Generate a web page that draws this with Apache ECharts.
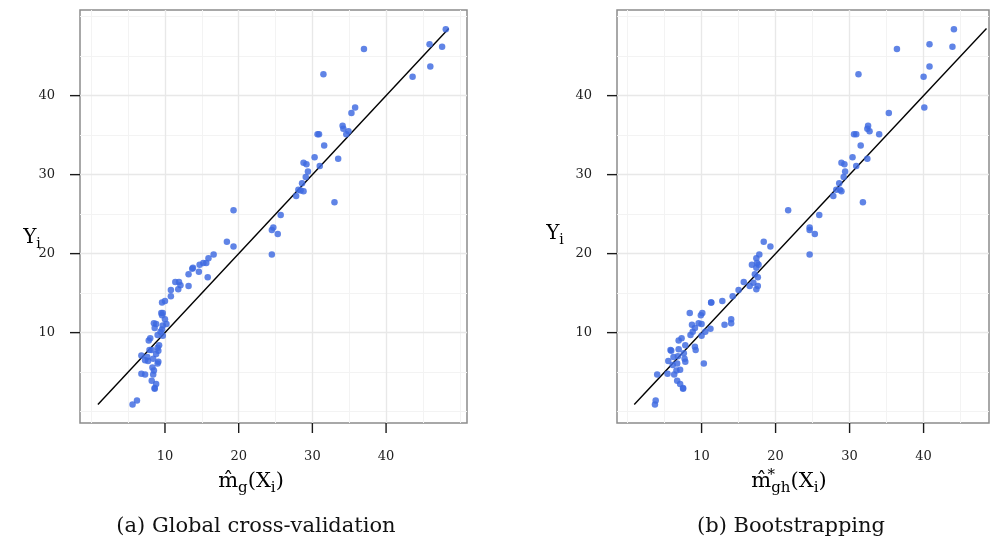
<!DOCTYPE html>
<html><head><meta charset="utf-8">
<script src="https://cdn.jsdelivr.net/npm/echarts@6/dist/echarts.min.js"></script>
<style>html,body{margin:0;padding:0;background:#fff}#c{width:996px;height:545px}</style>
</head><body><div id="c"></div>
<script>
// ---- data ----
const leftX = [48.1,45.9,47.6,37.0,46.0,43.6,31.5,35.8,35.3,34.1,34.2,34.9,34.6,30.7,30.9,31.6,30.3,33.5,28.8,29.2,31.0,29.4,29.1,28.6,28.1,28.4,28.8,27.8,33.0,19.3,25.7,24.7,24.5,25.3,24.5,18.4,19.3,16.6,15.9,15.6,15.2,14.7,13.7,13.8,14.6,13.2,15.8,11.4,11.9,12.1,13.2,11.8,10.8,10.8,9.6,10.0,9.5,9.7,9.6,10.0,8.5,8.8,8.6,10.2,9.7,9.6,9.4,9.7,9.0,8.0,7.8,9.2,9.0,9.1,8.2,7.9,8.8,6.8,7.6,8.4,7.3,7.7,9.1,9.0,8.3,8.5,8.4,6.8,7.3,8.2,8.8,8.6,8.6,6.2,5.6];
const leftY = [48.4,46.5,46.2,45.9,43.7,42.4,42.7,38.5,37.8,36.2,35.8,35.5,35.1,35.1,35.1,33.7,32.2,32.0,31.5,31.3,31.1,30.4,29.7,28.9,28.1,28.0,27.9,27.3,26.5,25.5,24.9,23.3,23.0,22.5,19.9,21.5,20.9,19.9,19.4,18.8,18.8,18.6,18.1,18.2,17.7,17.4,17.0,16.4,16.4,16.0,15.9,15.5,15.4,14.6,13.8,14.0,12.5,12.5,12.2,11.7,11.2,11.1,10.6,11.1,10.9,10.4,10.1,9.6,9.7,9.3,9.0,8.4,8.1,7.7,7.8,7.8,7.3,7.1,6.9,6.7,6.5,6.4,6.3,6.1,5.6,5.2,4.7,4.8,4.7,3.9,3.5,2.9,3.0,1.4,0.9];
const rightX = [44.1,40.8,43.9,36.4,40.8,40.0,31.2,40.1,35.3,32.5,32.4,32.7,34.0,30.6,30.9,31.5,30.4,32.4,28.9,29.3,30.9,29.4,29.2,28.6,28.2,28.7,28.9,27.8,31.8,21.7,25.9,24.6,24.6,25.3,24.6,18.4,19.3,17.8,17.4,17.5,16.8,17.7,17.4,17.2,17.6,15.7,17.0,16.5,17.6,17.4,15.0,14.2,11.3,11.3,12.8,8.4,10.1,9.9,14.0,14.0,13.1,8.7,9.6,10.0,9.1,11.2,10.5,8.8,8.5,10.0,7.3,6.9,9.1,7.8,9.2,5.8,5.9,6.9,7.6,6.2,6.8,7.7,5.5,7.8,6.1,6.7,10.3,6.6,7.1,4.0,5.4,6.3,6.7,7.1,7.5,7.5,3.8,3.7];
const rightY = [48.4,46.5,46.2,45.9,43.7,42.4,42.7,38.5,37.8,36.2,35.8,35.5,35.1,35.1,35.1,33.7,32.2,32.0,31.5,31.3,31.1,30.4,29.7,28.9,28.1,28.1,27.9,27.3,26.5,25.5,24.9,23.3,23.0,22.5,19.9,21.5,20.9,19.9,19.4,18.8,18.6,18.6,18.2,17.4,17.0,16.4,16.3,15.9,15.9,15.5,15.4,14.6,13.8,13.8,14.0,12.5,12.5,12.2,11.7,11.2,11.0,11.0,11.2,11.1,10.6,10.5,10.1,10.1,9.7,9.6,9.3,9.0,8.2,8.4,7.8,7.8,7.7,7.9,7.4,6.9,7.0,6.7,6.4,6.3,5.9,6.1,6.1,5.2,5.3,4.7,4.8,4.7,3.9,3.5,2.9,3.0,1.4,0.9];
const lineX = [0.9, 48.5];
const lineY = [0.9, 48.5];
const tickValues = [10, 20, 30, 40];
const majorGrid = [10, 20, 30, 40];
const minorGrid = [0, 5, 15, 25, 35, 45, 50];
const captions = ['(a) Global cross-validation', '(b) Bootstrapping'];

// ---- layout ----
const panels = [
  {grid:{left:80, top:10, width:387, height:413}, xr:[-1.53, 50.98], yr:[-1.44, 50.84], xs:leftX, ys:leftY},
  {grid:{left:617, top:10, width:372, height:413}, xr:[-1.43, 48.84], yr:[-1.44, 50.84], xs:rightX, ys:rightY}
];
const FONT = 'DejaVu Serif';
const TICK_LEN = 10;
const TICK_W = 1.4;
const zip = (a,b) => a.map((v,i)=>[v,b[i]]);

const grids=[], xAxes=[], yAxes=[], series=[];
panels.forEach((p,i)=>{
  grids.push(Object.assign({show:true, borderColor:'#8c8c8c', borderWidth:1.5, backgroundColor:'transparent'}, p.grid));
  const mkAxis = (pos, range, margin) => ({
    type:'value', gridIndex:i, position:pos, min:range[0], max:range[1],
    axisLine:{show:false, onZero:false},
    splitLine:{show:false},
    axisTick:{show:false},
    axisLabel:{show:true, customValues:tickValues, margin:margin, fontFamily:FONT, fontSize:13, color:'#222'}
  });
  xAxes.push(mkAxis('bottom', p.xr, 27));
  yAxes.push(mkAxis('left', p.yr, 25));
  const ml = [];
  minorGrid.forEach(v=>{
    if (v>p.xr[0] && v<p.xr[1]) ml.push({xAxis:v, lineStyle:{color:'#f3f3f3', width:1}});
    if (v>p.yr[0] && v<p.yr[1]) ml.push({yAxis:v, lineStyle:{color:'#f3f3f3', width:1}});
  });
  majorGrid.forEach(v=>{
    ml.push({xAxis:v, lineStyle:{color:'#e8e8e8', width:1.4}});
    ml.push({yAxis:v, lineStyle:{color:'#e8e8e8', width:1.4}});
  });
  series.push({type:'scatter', xAxisIndex:i, yAxisIndex:i, data:[], z:0, silent:true,
    markLine:{z:0, silent:true, symbol:['none','none'], label:{show:false}, animation:false, lineStyle:{type:'solid'}, data:ml}});
  // outside tick marks as thin filled rects, positioned through the axes' scales
  series.push({type:'custom', coordinateSystem:'cartesian2d', xAxisIndex:i, yAxisIndex:i, silent:true, clip:false, z:8, animation:false,
    data: tickValues.map(v=>[v, v]),
    renderItem:function(params, api){
      const v = api.value(0);
      const bx = api.coord([v, p.yr[0]]);
      const ly = api.coord([p.xr[0], v]);
      return {type:'group', children:[
        {type:'rect', shape:{x:bx[0]-TICK_W/2, y:bx[1], width:TICK_W, height:TICK_LEN}, style:{fill:'#1a1a1a'}},
        {type:'rect', shape:{x:ly[0]-TICK_LEN, y:ly[1]-TICK_W/2, width:TICK_LEN, height:TICK_W}, style:{fill:'#1a1a1a'}}
      ]};
    }});
  series.push({type:'line', xAxisIndex:i, yAxisIndex:i, data:zip(lineX,lineY), symbol:'none', z:6,
    lineStyle:{color:'#000', width:1.4}, animation:false});
  series.push({type:'scatter', xAxisIndex:i, yAxisIndex:i, data:zip(p.xs,p.ys), symbolSize:6.5, z:7,
    itemStyle:{color:'#3d69e0', opacity:0.82}, animation:false});
});

const mainSty = {fontFamily:FONT, fontSize:21, color:'#111', verticalAlign:'middle', lineHeight:28};
const subSty = {fontFamily:FONT, fontSize:15, color:'#111', verticalAlign:'bottom', lineHeight:28};
const supSty = {fontFamily:FONT, fontSize:15, color:'#111', verticalAlign:'top', lineHeight:28, width:0, align:'left'};
const ySty = {fontFamily:FONT, fontSize:20, color:'#111', verticalAlign:'middle', lineHeight:26};
const ySub = {fontFamily:FONT, fontSize:14, color:'#111', verticalAlign:'bottom', lineHeight:26};

const graphic = [
  {type:'text', x:251, y:482, style:{text:'{m|m\u0302}{s|g}{m|(X}{s|i}{m|)}', rich:{m:mainSty, s:subSty}, align:'center', verticalAlign:'middle'}},
  {type:'text', x:789, y:482, style:{text:'{m|m\u0302}{u|*}{s|gh}{m|(X}{s|i}{m|)}', rich:{m:mainSty, s:subSty, u:supSty}, align:'center', verticalAlign:'middle'}},
  {type:'text', x:32, y:238, style:{text:'{m|Y}{s|i}', rich:{m:ySty, s:ySub}, align:'center', verticalAlign:'middle'}},
  {type:'text', x:555, y:234, style:{text:'{m|Y}{s|i}', rich:{m:ySty, s:ySub}, align:'center', verticalAlign:'middle'}},
  {type:'text', x:256, y:527, style:{text:captions[0], fontFamily:FONT, fontSize:21, fill:'#111', align:'center', verticalAlign:'middle'}},
  {type:'text', x:791, y:527, style:{text:captions[1], fontFamily:FONT, fontSize:21, fill:'#111', align:'center', verticalAlign:'middle'}}
];

const chart = echarts.init(document.getElementById('c'), null, {renderer:'canvas'});
chart.setOption({animation:false, backgroundColor:'#fff', grid:grids, xAxis:xAxes, yAxis:yAxes, series:series, graphic:graphic});
</script></body></html>
